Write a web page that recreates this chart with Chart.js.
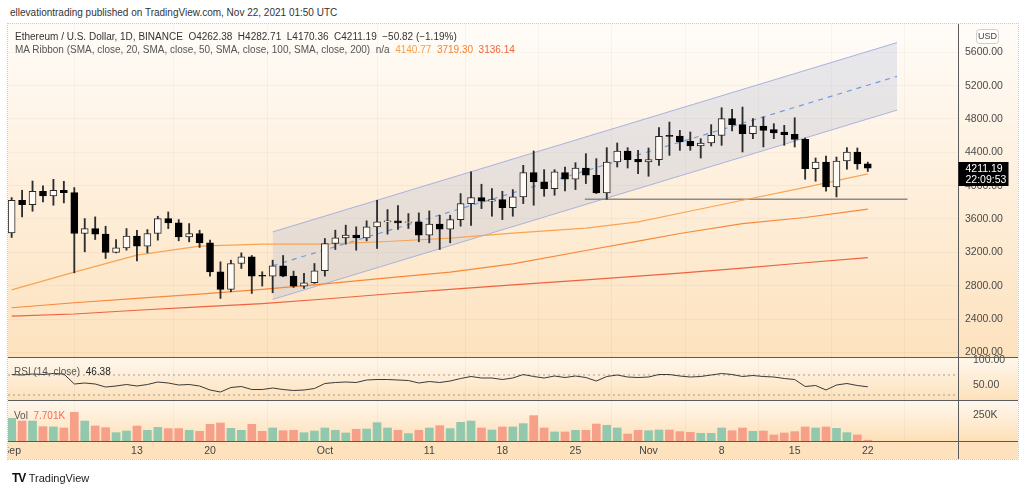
<!DOCTYPE html>
<html><head><meta charset="utf-8">
<script src="https://cdn.jsdelivr.net/npm/chart.js@4.4.0/dist/chart.umd.min.js"></script>
<style>
html,body{margin:0;padding:0;background:#fff;width:1024px;height:494px;overflow:hidden;font-family:'Liberation Sans',Arial,sans-serif;}
#frame{position:absolute;left:7px;top:23px;width:1010px;height:435px;border:1px dotted #c9c9c9;}
#wrap{position:absolute;left:8px;top:24px;width:1010px;height:435px;}
.t{position:absolute;white-space:pre;font-size:10px;line-height:12px;}
</style></head><body>
<div class="t" style="left:10px;top:7px;color:#333;">ellevationtrading published on TradingView.com, Nov 22, 2021 01:50 UTC</div>
<div id="frame"></div>
<div id="wrap"><canvas id="c"></canvas></div>
<div class="t" style="left:15px;top:31px;color:#333;">Ethereum / U.S. Dollar, 1D, BINANCE  O4262.38  H4282.71  L4170.36  C4211.19  −50.82 (−1.19%)</div>
<div class="t" style="left:15px;top:44px;color:#555;">MA Ribbon (SMA, close, 20, SMA, close, 50, SMA, close, 100, SMA, close, 200)  n/a  <span style="color:#f7a04b">4140.77</span>  <span style="color:#f7822f">3719.30</span>  <span style="color:#f0643a">3136.14</span></div>
<div class="t" style="left:14px;top:366px;color:#555;">RSI (14, close)  <span style="color:#222">46.38</span></div>
<div class="t" style="left:14px;top:410px;color:#555;">Vol  <span style="color:#f26d50">7.701K</span></div>
<div class="t" style="left:12px;top:472px;color:#111;font-size:12px;"><b style="letter-spacing:-1px;">TV</b> <span style="font-size:11px;color:#222">TradingView</span></div>
<script>
// ---- data (day index 0 = Sep 1, 2021) ----
const opens  = [3434,3825,3773,3933,3877,3945,3917,3426,3485,3418,3198,3254,3394,3274,3426,3605,3553,3386,3426,3314,2966,2755,3066,3146,2925,2915,3038,2915,2795,2835,2979,3306,3374,3406,3374,3506,3566,3578,3558,3566,3406,3538,3478,3593,3785,3857,3813,3833,3737,3865,4157,4045,3965,4157,4077,4212,4125,3913,4284,4416,4316,4284,4312,4604,4596,4532,4476,4512,4604,4804,4732,4624,4716,4672,4644,4616,4556,4205,4284,3985,4296,4404,4262.38];
const highs  = [3857,3945,4056,3997,4076,4052,3977,3605,3625,3513,3354,3485,3465,3473,3633,3685,3593,3545,3465,3346,3086,3106,3194,3162,2967,3106,3162,2975,2947,3066,3366,3466,3526,3506,3578,3825,3713,3761,3665,3673,3697,3645,3645,3905,4165,4017,3965,3933,3953,4244,4416,4192,4192,4224,4276,4384,4324,4456,4512,4456,4424,4452,4696,4763,4664,4644,4564,4732,4935,4915,4943,4804,4823,4744,4724,4815,4572,4332,4356,4344,4456,4452,4282.71];
const lows   = [3378,3625,3693,3805,3765,3793,2954,3206,3354,3126,3194,3226,3098,3194,3346,3485,3338,3326,3258,2914,2647,2727,3006,2707,2795,2715,2907,2779,2767,2827,2915,3234,3298,3226,3338,3246,3418,3474,3486,3326,3314,3234,3314,3514,3522,3725,3633,3593,3633,3785,3765,3873,3885,3937,3953,4025,3905,3837,4224,4212,4144,4113,4244,4364,4424,4424,4332,4476,4484,4656,4404,4564,4464,4564,4484,4464,4077,4053,3933,3865,4197,4197,4170.36];
const closes = [3825,3773,3933,3877,3945,3917,3426,3485,3418,3198,3254,3394,3274,3426,3605,3553,3386,3426,3314,2966,2755,3066,3146,2915,2915,3038,2915,2795,2835,2979,3306,3374,3406,3374,3506,3566,3578,3554,3566,3406,3538,3478,3593,3785,3857,3813,3833,3737,3865,4157,4045,3965,4165,4077,4212,4125,3913,4284,4416,4312,4284,4312,4592,4592,4524,4476,4512,4604,4804,4732,4624,4716,4664,4632,4612,4556,4205,4284,3985,4296,4404,4262,4211.19];
const volumesK = [218,192,192,138,135,125,276,192,144,128,80,96,144,103,131,119,119,103,93,160,173,122,103,160,93,125,99,103,80,96,125,103,77,112,115,176,125,103,71,103,125,147,119,180,192,125,106,135,135,167,244,125,87,87,103,103,163,151,125,67,103,99,106,106,90,83,74,74,125,99,125,93,96,58,77,90,135,125,135,122,80,58,7.7];
const rsiValues = [71,70,72,71,73,72,52,54,52,46,48,51,48,51,56,54,50,51,48,40,36,45,47,41,41,44,41,39,40,43,53,55,56,55,60,61,61,60,59,54,57,55,58,63,67,64,64,61,64,71,67,64,68,65,68,65,58,67,70,66,65,66,71,71,68,66,67,70,73,71,67,69,67,66,63,61,47,49,40,50,53,49,46.38];
const maDays = [0,6,12,18,24,30,36,42,48,55,60,64,70,76,82];
const ma50  = [2750,2962,3166,3274,3298,3298,3330,3370,3430,3490,3565,3669,3825,3980,4140.77];
const ma100 = [2535,2595,2647,2699,2755,2822,2894,2962,3062,3222,3334,3426,3545,3618,3719.30];
const ma200 = [2435,2460,2505,2545,2585,2640,2700,2755,2810,2870,2915,2950,3010,3075,3136.14];
const channelDays  = [25, 84.8];
const channelUpper = [3445, 5717];
const channelMid   = [3040, 5312];
const channelLower = [2635, 4907];
const supportDays  = [54.9, 85.8];
const supportLevel = 3837;
const rsiBands = [70, 30];
const dateTickIdx = [0,12,19,30,40,47,54,61,68,75,82];
const dateLabels  = ['Sep','13','20','Oct','11','18','25','Nov','8','15','22'];
const priceTicks = [2000,2400,2800,3200,3600,4000,4400,4800,5200,5600];
const rsiTicks = [50,100];
const volTicks = [250];
const lastTime = '22:09:53';

// ---- build ----
Chart.defaults.font.family = "'Liberation Sans', Arial, sans-serif";
Chart.defaults.font.size = 10.5;
Chart.defaults.color = '#4a4a4a';
const idx = opens.map((_, i) => i);
const up = i => closes[i] >= opens[i];
const XMIN = -0.35, XMAX = 90.64;
const pts = (xs, ys) => xs.map((x, k) => ({x, y: ys[k]}));

const bgPlugin = {
  id: 'panes',
  beforeDraw(chart) {
    const {ctx, scales, width, height} = chart;
    const panes = [[scales.y,'#fffcf8','#fde2be'],[scales.yRsi,'#fff8ee','#fde1bb'],[scales.yVol,'#fff8ef','#fde0b8']];
    ctx.save();
    ctx.fillStyle = '#fffcf8'; ctx.fillRect(0, 0, width, scales.y.top);
    panes.forEach(([s, c1, c2]) => {
      const g = ctx.createLinearGradient(0, s.top, 0, s.bottom);
      g.addColorStop(0, c1); g.addColorStop(1, c2);
      ctx.fillStyle = g; ctx.fillRect(0, s.top, width, s.bottom - s.top);
    });
    ctx.fillStyle = '#fde2bd'; ctx.fillRect(0, scales.x.top, width, height - scales.x.top);
    ctx.restore();
  },
  afterDraw(chart) {
    const {ctx, scales, width, height, chartArea} = chart;
    ctx.save();
    ctx.strokeStyle = '#5b5b5b'; ctx.lineWidth = 1;
    [scales.y.bottom, scales.yRsi.bottom, scales.yVol.bottom].forEach(yy => {
      const p = Math.round(yy) + 0.5;
      ctx.beginPath(); ctx.moveTo(0, p); ctx.lineTo(width, p); ctx.stroke();
    });
    const ax = Math.round(chartArea.right) + 0.5;
    ctx.beginPath(); ctx.moveTo(ax, 0); ctx.lineTo(ax, height); ctx.stroke();
    // last price label
    const last = closes.length - 1;
    const py = scales.y.getPixelForValue(closes[last]);
    const bx = chartArea.right + 0.5, by = Math.round(py) - 6;
    ctx.fillStyle = '#000'; ctx.fillRect(bx, by, 50, 24);
    ctx.fillStyle = '#fff'; ctx.font = "10.5px 'Liberation Sans', Arial, sans-serif";
    ctx.textBaseline = 'middle'; ctx.textAlign = 'left';
    ctx.fillText(closes[last].toFixed(2), bx + 7, by + 7);
    ctx.fillText(lastTime, bx + 7, by + 18);
    // currency badge
    const ux = chartArea.right + 18, uy = 5;
    ctx.fillStyle = '#fffdf9'; ctx.strokeStyle = '#cfcfcf';
    ctx.beginPath(); ctx.roundRect(ux + 0.5, uy + 0.5, 22, 14, 3); ctx.fill(); ctx.stroke();
    ctx.fillStyle = '#444'; ctx.font = "9px 'Liberation Sans', Arial, sans-serif"; ctx.textAlign = 'center';
    ctx.fillText('USD', ux + 11.5, uy + 8);
    ctx.restore();
  }
};

const yFit = s => { s.width = 60; s.paddingTop = 0; s.paddingBottom = 0; };
const setTicks = arr => s => { s.ticks = arr.map(v => ({value: v})); };

new Chart(document.getElementById('c'), {
  type: 'bar',
  data: {
    datasets: [
      {type:'bar', data: idx.map(i => ({x: i, y: [opens[i], closes[i]]})), yAxisID:'y', grouped:false, barThickness:7,
       backgroundColor: idx.map(i => up(i) ? '#fffaf3' : '#000'), borderColor: idx.map(i => up(i) ? '#262626' : '#000'),
       borderWidth: 1, borderSkipped: false, order: 1},
      {type:'bar', data: idx.map(i => ({x: i, y: [lows[i], highs[i]]})), yAxisID:'y', grouped:false, barThickness:1.2,
       backgroundColor: '#2e2e2e', borderWidth: 0, order: 2},
      {type:'line', data: pts(channelDays, channelUpper), yAxisID:'y', borderColor:'rgba(160,172,222,0.9)', borderWidth:1,
       pointRadius:0, fill:'+1', backgroundColor:'rgba(172,182,215,0.28)', order: 9},
      {type:'line', data: pts(channelDays, channelLower), yAxisID:'y', borderColor:'rgba(160,172,222,0.9)', borderWidth:1,
       pointRadius:0, fill:false, order: 9},
      {type:'line', data: pts(channelDays, channelMid), yAxisID:'y', borderColor:'#6e9de0', borderWidth:1.2, borderDash:[5,5],
       pointRadius:0, fill:false, order: 8},
      {type:'line', data: pts(supportDays, [supportLevel, supportLevel]), yAxisID:'y', borderColor:'#8a8a8a', borderWidth:1.6,
       pointRadius:0, fill:false, order: 7},
      {type:'line', data: pts(maDays, ma50), yAxisID:'y', borderColor:'#f9a452', borderWidth:1.2, pointRadius:0, fill:false, order: 6},
      {type:'line', data: pts(maDays, ma100), yAxisID:'y', borderColor:'#f7883a', borderWidth:1.2, pointRadius:0, fill:false, order: 6},
      {type:'line', data: pts(maDays, ma200), yAxisID:'y', borderColor:'#ee6240', borderWidth:1.2, pointRadius:0, fill:false, order: 6},
      {type:'line', data: pts([XMIN, XMAX], [rsiBands[0], rsiBands[0]]), yAxisID:'yRsi', borderColor:'#9d9d9d', borderWidth:1,
       borderDash:[2,3], pointRadius:0, fill:false, order: 5},
      {type:'line', data: pts([XMIN, XMAX], [rsiBands[1], rsiBands[1]]), yAxisID:'yRsi', borderColor:'#9d9d9d', borderWidth:1,
       borderDash:[2,3], pointRadius:0, fill:false, order: 5},
      {type:'line', data: idx.map(i => ({x: i, y: rsiValues[i]})), yAxisID:'yRsi', borderColor:'#3a3a3a', borderWidth:1,
       pointRadius:0, fill:false, order: 4},
      {type:'bar', data: idx.map(i => ({x: i, y: volumesK[i]})), yAxisID:'yVol', grouped:false, barThickness:8,
       backgroundColor: idx.map(i => up(i) ? '#91c8ae' : '#f6a08a'), borderWidth:0, order: 3}
    ]
  },
  options: {
    responsive: true, maintainAspectRatio: false, animation: false,
    events: [],
    layout: {padding: {top: 1, left: 0, right: 0, bottom: 0}, autoPadding: false},
    plugins: {legend: {display: false}, tooltip: {enabled: false}},
    scales: {
      x: {type:'linear', min: XMIN, max: XMAX, offset:false,
          grid: {color:'rgba(0,0,0,0.03)', drawTicks:false}, border:{display:false},
          afterBuildTicks: setTicks(dateTickIdx),
          afterFit: s => { s.height = 18; s.paddingLeft = 0; s.paddingRight = 0; },
          ticks: {autoSkip:false, maxRotation:0, padding:4, color:'#444', font:{size:10.5},
                  callback: v => { const k = dateTickIdx.indexOf(v); return k >= 0 ? dateLabels[k] : ''; }}},
      y: {type:'linear', position:'right', stack:'pane', stackWeight:332, weight:1, min:1944, max:5928,
          grid:{color:'rgba(0,0,0,0.03)', drawTicks:false}, border:{display:false},
          afterBuildTicks: setTicks(priceTicks), afterFit: yFit,
          ticks:{padding:7, callback: v => v.toFixed(2)}},
      yRsi: {type:'linear', position:'right', stack:'pane', stackWeight:43, weight:2, min:20, max:106,
          grid:{display:false}, border:{display:false},
          afterBuildTicks: setTicks(rsiTicks), afterFit: yFit,
          ticks:{padding:7, callback: v => v.toFixed(2)}},
      yVol: {type:'linear', position:'right', stack:'pane', stackWeight:41, weight:3, min:0, max:394,
          grid:{display:false}, border:{display:false},
          afterBuildTicks: setTicks(volTicks), afterFit: yFit,
          ticks:{padding:7, callback: v => v + 'K'}}
    }
  },
  plugins: [bgPlugin]
});
</script>
</body></html>
